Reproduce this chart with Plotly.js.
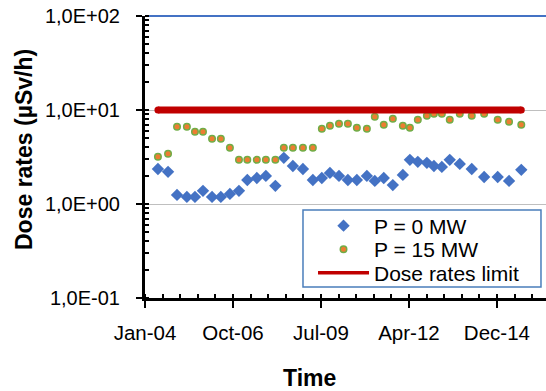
<!DOCTYPE html>
<html>
<head>
<meta charset="utf-8">
<script src="https://cdn.plot.ly/plotly-3.0.1.min.js"></script>
<style>html,body{margin:0;padding:0;background:#fff;}#chart{width:546px;height:391px;}</style>
</head>
<body>
<div id="chart"></div>
<script>
const dates = [
  "2004-06-10","2004-10-03","2005-01-13","2005-05-05","2005-08-05","2005-11-04",
  "2006-02-15","2006-05-26","2006-09-06","2006-12-18","2007-03-23","2007-07-09",
  "2007-10-20","2008-02-05","2008-05-11","2008-08-22","2008-12-14","2009-04-06",
  "2009-07-17","2009-10-17","2010-01-28","2010-05-09","2010-08-19","2010-12-11",
  "2011-03-11","2011-06-21","2011-10-02","2012-01-24","2012-04-13","2012-07-12",
  "2012-10-23","2013-01-11","2013-04-11","2013-07-10","2013-11-01","2014-03-17",
  "2014-08-05","2015-01-06","2015-05-15","2015-10-01"
];
// P = 0 MW dose rates (µSv/h)
const p0 = [
  2.36,2.20,1.25,1.19,1.19,1.38,1.19,1.19,1.28,1.38,1.80,1.89,
  1.99,1.56,3.10,2.54,2.36,1.80,1.89,2.14,1.99,1.80,1.80,1.99,
  1.76,1.89,1.59,2.04,2.95,2.81,2.74,2.54,2.48,2.95,2.67,2.36,
  1.94,1.94,1.76,2.31
];
// P = 15 MW dose rates (µSv/h)
const p15 = [
  3.18,3.42,6.63,6.63,5.87,5.87,4.94,4.94,3.96,2.95,2.95,2.95,
  2.95,2.95,3.96,3.96,3.96,3.96,6.32,6.80,7.14,7.14,6.47,6.32,
  8.48,6.97,8.08,6.80,6.47,7.88,8.70,9.13,9.13,7.88,9.13,8.70,
  9.13,7.88,7.50,6.97
];
// Dose rates limit
const limitDates = [dates[0], dates[dates.length - 1]];
const limitValues = [10, 10];
// Axis ticks
const xTickVals = ["2004-01-15","2006-10-11","2009-07-07","2012-04-02","2014-12-28"];
const xTickText = ["Jan-04","Oct-06","Jul-09","Apr-12","Dec-14"];
const yTickVals = [0.1, 1, 10, 100];
const yTickText = ["1,0E-01","1,0E+00","1,0E+01","1,0E+02"];

const FONT = "Liberation Sans, Arial, sans-serif";
const LEG_FONT = {family: FONT, size: 21, color: "#000"};

const traces = [
  {
    x: dates, y: p0, type: "scatter", mode: "markers", name: "P = 0 MW",
    legend: "legend",
    marker: {symbol: "diamond", size: 9.5, color: "#4472C4", line: {width: 0}}
  },
  {
    x: dates, y: p15, type: "scatter", mode: "markers", name: "P = 15 MW",
    legend: "legend2",
    marker: {symbol: "circle", size: 6.5, color: "#ED7D31", line: {width: 1.5, color: "#70AD47"}}
  },
  {
    x: limitDates, y: limitValues, type: "scatter", mode: "lines", name: "Dose rates limit",
    legend: "legend3",
    line: {color: "#C00000", width: 3.5}
  },
  {
    x: limitDates, y: limitValues, type: "scatter", mode: "lines+markers", showlegend: false,
    hoverinfo: "skip", line: {color: "#C00000", width: 7},
    marker: {symbol: "circle", size: 7, color: "#C00000"}
  }
];

function legendAt(y) {
  return {
    x: 0.419, y: y, xanchor: "left", yanchor: "middle",
    bgcolor: "rgba(0,0,0,0)", borderwidth: 0,
    font: LEG_FONT, itemwidth: 51
  };
}

const layout = {
  width: 546, height: 391,
  margin: {l: 145, r: 0, t: 16, b: 93, pad: 0},
  paper_bgcolor: "#fff", plot_bgcolor: "#fff",
  font: {family: FONT, size: 20, color: "#000"},
  showlegend: true,
  legend: legendAt(0.2553),
  legend2: legendAt(0.1720),
  legend3: legendAt(0.0887),
  xaxis: {
    type: "date",
    range: ["2004-01-15", "2016-07-08"],
    tickmode: "array", tickvals: xTickVals, ticktext: xTickText,
    ticks: "outside", ticklen: 7, tickwidth: 2, tickcolor: "#000",
    showline: true, linecolor: "#000", linewidth: 3,
    showgrid: false, zeroline: false,
    tickfont: {family: FONT, size: 20.5, color: "#000"},
    ticklabelstandoff: 7,
    minor: {ticks: "inside", ticklen: 4, tickwidth: 2, tickcolor: "#000",
            dtick: 200 * 86400000, tick0: "2004-01-15", showgrid: false}
  },
  yaxis: {
    type: "log",
    range: [-1, 2],
    tickmode: "array", tickvals: yTickVals, ticktext: yTickText,
    ticks: "outside", ticklen: 6, tickwidth: 2, tickcolor: "#000",
    showline: true, linecolor: "#000", linewidth: 3,
    showgrid: true, gridcolor: "#BFBFBF", gridwidth: 1,
    zeroline: false,
    tickfont: {family: FONT, size: 20, color: "#000"},
    ticklabelstandoff: 12,
    minor: {ticks: "inside", ticklen: 4, tickwidth: 2, tickcolor: "#000", dtick: "D1", showgrid: false}
  },
  shapes: [
    {type: "line", xref: "paper", yref: "paper", x0: 0, x1: 1, y0: 1, y1: 1,
     line: {color: "#4472C4", width: 2}, layer: "below"},
    {type: "rect", xref: "paper", yref: "paper", x0: 0.394, x1: 0.9875, y0: 0.039, y1: 0.312,
     fillcolor: "#fff", line: {color: "#4A7EBB", width: 1.5}, layer: "above"}
  ],
  annotations: [
    {text: "<b>Dose rates (µSv/h)</b>", xref: "paper", yref: "paper",
     x: -0.302, y: 0.528, xanchor: "center", yanchor: "middle", textangle: -90,
     showarrow: false, font: {family: FONT, size: 23, color: "#000"}},
    {text: "<b>Time</b>", xref: "paper", yref: "paper",
     x: 0.411, y: -0.284, xanchor: "center", yanchor: "middle",
     showarrow: false, font: {family: FONT, size: 23, color: "#000"}}
  ]
};

Plotly.newPlot("chart", traces, layout, {staticPlot: true, displayModeBar: false});
</script>
</body>
</html>
